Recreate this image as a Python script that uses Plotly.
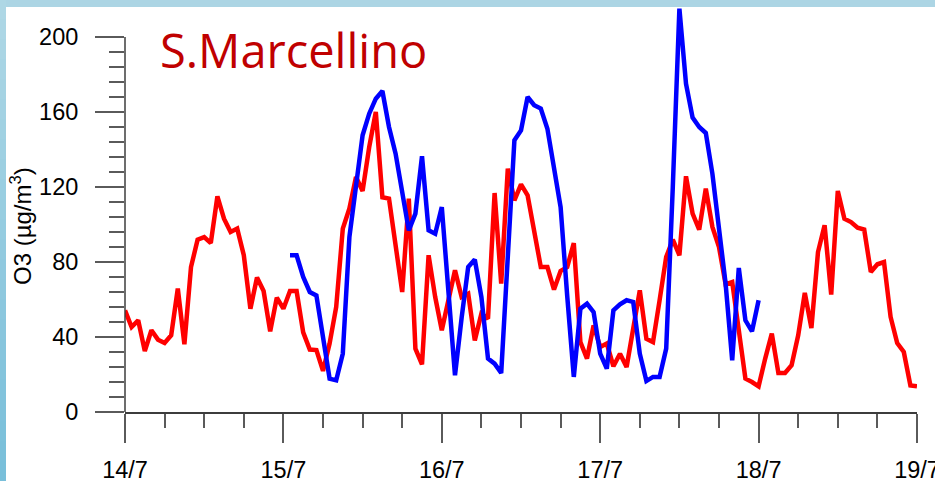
import numpy as np
import plotly.graph_objects as go

# Hourly ozone concentrations (µg/m³), hour 0 = 14/7 00:00
red_o3 = [
    54.2, 45.3, 48.9, 32.5, 43.6, 38.6, 36.8, 40.9, 65.8, 36.1, 77.3, 91.9,
    93.3, 90.1, 115.0, 103.1, 96.0, 97.8, 83.6, 55.1, 71.7, 64.5, 43.0, 61.0,
    55.1, 64.5, 64.5, 42.5, 33.3, 33.0, 21.9, 36.5, 56.0, 97.8, 108.5, 125.3,
    117.9, 141.3, 160.0, 114.5, 113.8, 90.0, 64.0, 113.8, 33.8, 25.4, 83.6, 61.3,
    43.6, 59.6, 75.6, 61.3, 63.1, 38.2, 52.5, 49.8, 116.8, 68.5, 129.8, 112.9,
    121.4, 115.6, 96.5, 77.3, 77.3, 65.3, 75.2, 77.3, 90.1, 37.3, 28.5, 46.2,
    34.7, 36.5, 24.4, 31.1, 24.0, 43.6, 64.9, 39.1, 37.3, 59.6, 82.7, 91.9,
    83.6, 125.7, 105.8, 97.3, 119.1, 98.7, 88.0, 68.1, 69.3, 43.6, 17.8, 16.0,
    13.7, 28.5, 41.8, 20.8, 20.8, 24.9, 40.9, 63.5, 44.8, 85.3, 99.6, 62.6,
    117.9, 103.1, 101.3, 98.3, 97.3, 74.7, 78.8, 80.0, 50.7, 36.8, 32.0, 14.2,
    13.7,
]
red_start_hour = 0

blue_o3 = [
    83.6, 83.6, 72.0, 64.0, 62.2, 40.0, 17.8, 16.9, 31.1, 93.3, 120.9, 147.6,
    159.1, 167.1, 171.2, 152.0, 137.8, 118.2, 96.9, 105.8, 136.4, 96.9, 95.1, 109.3,
    64.5, 19.6, 50.1, 77.3, 81.3, 61.3, 28.5, 25.8, 20.8, 88.0, 144.9, 150.2,
    168.0, 163.6, 161.8, 151.1, 130.7, 109.3, 62.0, 18.7, 55.1, 57.8, 53.3, 31.1,
    23.1, 54.2, 57.4, 59.6, 58.7, 31.1, 16.5, 18.7, 18.7, 33.8, 120.0, 215.1,
    175.1, 157.0, 152.0, 148.8, 127.1, 98.7, 68.5, 27.6, 76.8, 48.9, 43.0, 59.6,
]
blue_start_hour = 25

day_labels = ["14/7", "15/7", "16/7", "17/7", "18/7", "19/7"]
y_major = [0, 40, 80, 120, 160, 200]

red_x = red_start_hour + np.arange(len(red_o3))
blue_x = blue_start_hour + np.arange(len(blue_o3))
day_ticks = [24 * i for i in range(len(day_labels))]
x_minor = [h for h in range(0, day_ticks[-1] + 1, 6) if h % 24]
y_minor = [v for v in range(0, y_major[-1] + 1, 8) if v % 40]

W, H = 935, 481
L, R, T, B = 125, 18, 0, 69
px_per_unit = 1.875
y_top = (H - T - B) / px_per_unit

axis_col = "#3c3c3c"
tick_col = "#5a5a5a"
tick_font = dict(family="Liberation Sans, Arial, sans-serif", size=23.5, color="black")

fig = go.Figure()
fig.add_trace(go.Scatter(x=red_x, y=red_o3, mode="lines",
                         line=dict(color="#ff0000", width=4.5), hoverinfo="skip"))
fig.add_trace(go.Scatter(x=blue_x, y=blue_o3, mode="lines",
                         line=dict(color="#0000ff", width=4.5), hoverinfo="skip"))

fig.update_xaxes(
    range=[0, day_ticks[-1]], tickmode="array", tickvals=day_ticks, ticktext=day_labels,
    ticks="outside", ticklen=29, tickwidth=1.5, tickcolor=tick_col,
    showline=True, linecolor=axis_col, linewidth=1.5,
    showgrid=False, zeroline=False, tickfont=tick_font, ticklabelstandoff=7,
    ticklabeloverflow="allow",
    minor=dict(tickmode="array", tickvals=x_minor, ticks="outside", ticklen=14,
               tickwidth=1.5, tickcolor=tick_col, showgrid=False),
    automargin=False,
)
fig.update_yaxes(
    range=[0, y_top], tickmode="array", tickvals=y_major,
    ticks="outside", ticklen=29, tickwidth=1.5, tickcolor=tick_col,
    showline=False, showgrid=False, zeroline=False, tickfont=tick_font,
    ticklabelstandoff=12, ticklabeloverflow="allow",
    minor=dict(tickmode="array", tickvals=y_minor, ticks="outside", ticklen=15,
               tickwidth=1.5, tickcolor=tick_col, showgrid=False),
    automargin=False,
)

shapes = [
    # left axis spine, drawn only up to the last labelled value
    dict(type="line", xref="paper", yref="y", x0=0, x1=0, y0=0, y1=y_major[-1],
         line=dict(color=axis_col, width=1.5), layer="above"),
    # frame bars
    dict(type="rect", xref="paper", yref="paper",
         x0=-L / (W - L - R), x1=(W - L) / (W - L - R),
         y0=1 - 7 / (H - T - B), y1=1 + 0.01,
         fillcolor="#acd5e4", line=dict(width=0), layer="above"),
]
# left bar with a soft vertical gradient
n_steps = 24
c_top = np.array([0xb0, 0xd8, 0xe6])
c_bot = np.array([0x78, 0xbf, 0xda])
plot_h = H - T - B
for i in range(n_steps):
    f0 = i / n_steps
    f1 = (i + 1) / n_steps
    c = (c_top + (c_bot - c_top) * (f0 + f1) / 2).astype(int)
    y_hi = 1 - (f0 * H) / plot_h
    y_lo = 1 - (f1 * H) / plot_h
    shapes.append(dict(type="rect", xref="paper", yref="paper",
                       x0=-L / (W - L - R), x1=(6 - L) / (W - L - R),
                       y0=y_lo, y1=y_hi + 0.002,
                       fillcolor="rgb(%d,%d,%d)" % tuple(c), line=dict(width=0),
                       layer="above"))

annotations = [
    dict(text="S.Marcellino", xref="paper", yref="paper",
         x=(158 - L) / (W - L - R), y=1 - 50 / plot_h,
         xanchor="left", yanchor="middle", showarrow=False,
         font=dict(family="Open Sans, sans-serif", size=47, color="#c00000")),
    dict(text="O3 (µg/m<sup>3</sup>)", xref="paper", yref="paper",
         x=(21 - L) / (W - L - R), y=1 - 226 / plot_h,
         xanchor="center", yanchor="middle", textangle=-90, showarrow=False,
         font=dict(family="Liberation Sans, Arial, sans-serif", size=24, color="black")),
]

fig.update_layout(
    width=W, height=H,
    margin=dict(l=L, r=R, t=T, b=B, pad=0),
    paper_bgcolor="white", plot_bgcolor="white",
    showlegend=False, shapes=shapes, annotations=annotations,
)

fig.write_html("out.html", config={"displayModeBar": False})
